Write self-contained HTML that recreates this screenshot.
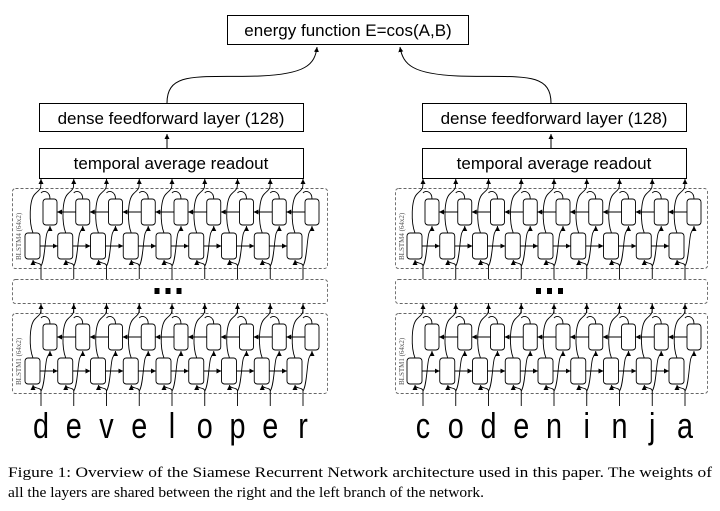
<!DOCTYPE html>
<html><head><meta charset="utf-8"><style>
html,body{margin:0;padding:0;background:#fff;width:720px;height:511px;overflow:hidden}
svg{display:block}
</style></head><body>
<svg id="s" width="720" height="511" viewBox="0 0 720 511" xmlns="http://www.w3.org/2000/svg">
<defs><marker id="a" markerWidth="6" markerHeight="6" refX="5" refY="3" orient="auto" markerUnits="userSpaceOnUse"><path d="M0,0.5 L5,3 L0,5.5 z" fill="#000"/></marker></defs>
<g font-family="Liberation Sans, sans-serif" fill="none" stroke="#000" stroke-width="1">
<rect x="227.5" y="15.5" width="241" height="29" fill="#fff"/>
<rect x="39.5" y="103.5" width="264" height="28" fill="#fff"/>
<rect x="39.5" y="148.5" width="264" height="30" fill="#fff"/>
<rect x="422.5" y="103.5" width="264" height="28" fill="#fff"/>
<rect x="422.5" y="148.5" width="264" height="30" fill="#fff"/>
<path d="M167,103 C167,70 200,78 260,76 C305,74 315,65 317,47" marker-end="url(#a)"/>
<path d="M551,103 C551,70 518,78 458,76 C413,74 403,65 400,47" marker-end="url(#a)"/>
<line x1="167" y1="148" x2="167" y2="134" marker-end="url(#a)"/>
<line x1="551" y1="148" x2="551" y2="134" marker-end="url(#a)"/>
</g>
<g id="g" fill="none" stroke="#000" stroke-width="0.9"></g>
<g font-family="Liberation Sans, sans-serif" fill="#000" font-size="17">
<text x="348" y="36" text-anchor="middle">energy function E=cos(A,B)</text>
<text x="171" y="124" text-anchor="middle">dense feedforward layer (128)</text>
<text x="171" y="169" text-anchor="middle">temporal average readout</text>
<text x="554" y="124" text-anchor="middle">dense feedforward layer (128)</text>
<text x="554" y="169" text-anchor="middle">temporal average readout</text>
</g>
<g id="L" font-family="Liberation Sans, sans-serif" font-size="36" fill="#000"></g>
<g font-family="Liberation Serif, serif" font-size="15" fill="#000">
<text x="8" y="477" textLength="704" lengthAdjust="spacingAndGlyphs">Figure 1: Overview of the Siamese Recurrent Network architecture used in this paper. The weights of</text>
<text x="8" y="497" textLength="476" lengthAdjust="spacingAndGlyphs">all the layers are shared between the right and the left branch of the network.</text>
</g>
</svg>
<script>
var g=document.getElementById('g'),out='';
function P(d,m){out+='<path d="'+d+'"'+(m?' marker-end="url(#a)"':'')+'/>';}
function R(x,y,w,h,r,dash){out+='<rect x="'+x+'" y="'+y+'" width="'+w+'" height="'+h+'" rx="'+r+'"'+(dash?' stroke="#666" stroke-dasharray="3,2"':'')+'/>';}
var branches=[{x0:12,x1:327,c0:41},{x0:395,x1:707,c0:423}];
var pitch=32.75;
branches.forEach(function(b){
 [188,313].forEach(function(T,bi){
  R(b.x0+0.5,T+0.5,b.x1-b.x0,80,3,true);
  for(var i=0;i<9;i++){
   var c=b.c0+i*pitch;
   R(c+2,T+11,14,26,3);R(c-16,T+45,15,26,3);
   var yb=T+80+(bi==0?11:13);
   P('M'+c+','+yb+' L'+c+','+(T+78));
   P('M'+c+','+(T+78)+' C'+c+','+(T+74)+' '+(c-8)+','+(T+76)+' '+(c-8)+','+(T+72),1);
   P('M'+c+','+(T+78)+' C'+(c+4)+','+(T+72)+' '+(c+4)+','+(T+50)+' '+(c+6)+','+(T+45)+' S'+(c+9)+','+(T+42)+' '+(c+9)+','+(T+38),1);
   P('M'+(c-8)+','+(T+45)+' C'+(c-12)+','+(T+35)+' '+(c-12)+','+(T+12)+' '+(c-6)+','+(T+6)+' S'+c+','+(T+2)+' '+c+','+(T-9),1);
   P('M'+(c+9)+','+(T+11)+' C'+(c+9)+','+(T+3)+' '+(c+2)+','+(T+2)+' '+c+','+(T+5));
   if(i<8){
    P('M'+(c-1)+','+(T+58)+' L'+(c+pitch-16)+','+(T+58),1);
    P('M'+(c+pitch+2)+','+(T+24)+' L'+(c+16)+','+(T+24),1);
   }
  }
  var lab=bi==0?'BLSTM4 (64x2)':'BLSTM1 (64x2)';
  out+='<text transform="translate('+(b.x0+9)+','+(T+72)+') rotate(-90)" font-family="Liberation Serif, serif" font-size="7" fill="#555" stroke="none">'+lab+'</text>';
 });
 R(b.x0+0.5,279.5,b.x1-b.x0,24,3,true);
 var mx=(b.x0+b.x1)/2-15;
 for(var k=0;k<3;k++) out+='<rect x="'+(mx+k*11)+'" y="288" width="5" height="6" fill="#000" stroke="none"/>';
 for(var i=0;i<9;i++){var c=b.c0+i*pitch;P('M'+c+',303 L'+c+',313');}
});
g.innerHTML=out;
var L=document.getElementById('L'),s='';
[['developer',41],['codeninja',423]].forEach(function(w){
 for(var i=0;i<9;i++){var c=w[1]+i*pitch;
  s+='<text transform="translate('+c+',438) scale(0.8,1)" text-anchor="middle">'+w[0][i]+'</text>';}
});
L.innerHTML=s;
</script>
</body></html>
